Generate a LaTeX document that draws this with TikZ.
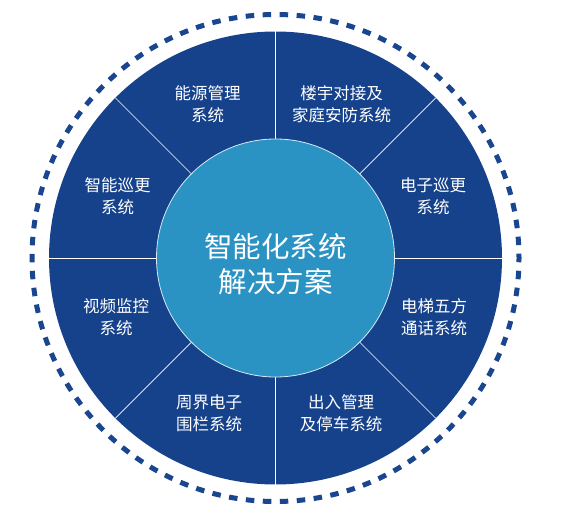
\documentclass[tikz,border=0pt]{standalone}
\usepackage{fontspec}
\usetikzlibrary{calc}
\newfontfamily\cjk{Noto Sans CJK SC}
\definecolor{ringblue}{HTML}{16428B}
\definecolor{coreblue}{HTML}{2A93C3}
\definecolor{dashblue}{HTML}{1A468F}
\tikzset{
  seglabel/.style={text=white,align=center,font=\cjk\fontsize{16.5}{22}\selectfont,inner sep=0pt},
  corelabel/.style={text=white,align=center,font=\cjk\fontsize{28.5}{35}\selectfont,inner sep=0pt},
  sepline/.style={white,line width=0.7pt}
}
\begin{document}
\begin{tikzpicture}[x=1pt,y=-1pt]
\useasboundingbox (0,0) rectangle (562,524);
\coordinate (c) at (275.5,258);
% dashed outer circle
\draw[dashblue,line width=5pt,dash pattern=on 8.5pt off 8.5pt,dash phase=4.25pt] (c) circle[radius=243.5];
% ring
\fill[ringblue] (c) circle[radius=226.5];
% separators
\foreach \a in {0,45,...,315}{
  \draw[sepline] ($(c)+(\a:119)$) -- ($(c)+(\a:226.5)$);
}
% core
\node[circle,fill=coreblue,draw=white!80!coreblue,line width=0.8pt,minimum size=238pt,inner sep=0pt] (core) at (c) {};
\node[corelabel] (coretext) at (275.5,264.5) {智能化系统\\解决方案};
% labels
\node[seglabel] (l1) at (207.5,104) {能源管理\\系统};
\node[seglabel] (l2) at (341.5,104) {楼宇对接及\\家庭安防系统};
\node[seglabel] (l3) at (433,196) {电子巡更\\系统};
\node[seglabel] (l4) at (434,317.5) {电梯五方\\通话系统};
\node[seglabel] (l5) at (341,413) {出入管理\\及停车系统};
\node[seglabel] (l6) at (209,413) {周界电子\\围栏系统};
\node[seglabel] (l7) at (116,317) {视频监控\\系统};
\node[seglabel] (l8) at (117.5,196) {智能巡更\\系统};
\end{tikzpicture}
\end{document}
